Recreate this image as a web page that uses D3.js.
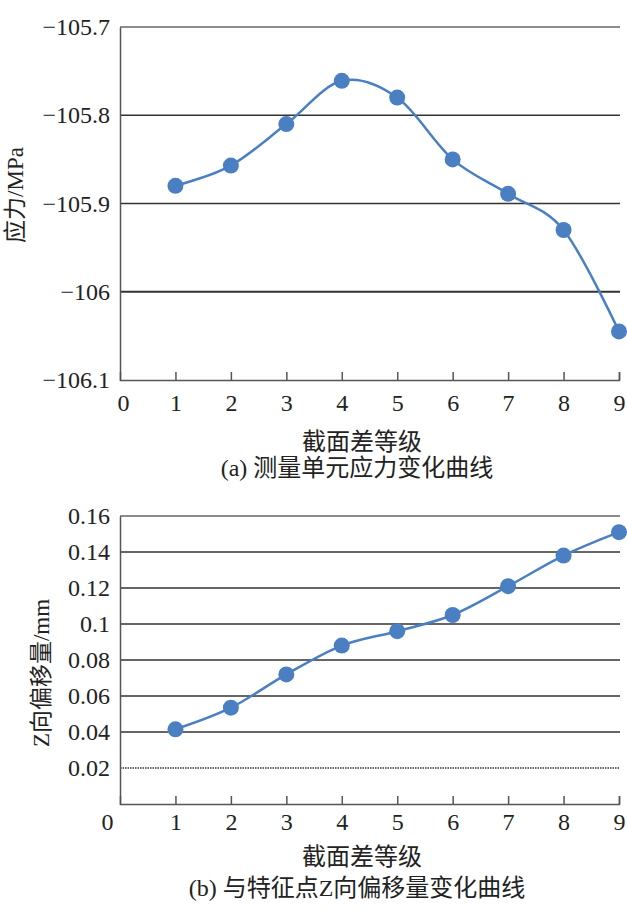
<!DOCTYPE html>
<html>
<head>
<meta charset="utf-8">
<script src="https://cdn.jsdelivr.net/npm/d3@7"></script>
<style>
  body { margin: 0; background: #fff; }
  text { font-family: "Liberation Serif", "Noto Sans CJK SC", serif; fill: #222; }
  .cjk { font-family: "Liberation Serif", "Noto Sans CJK SC", sans-serif; }
</style>
</head>
<body>
<svg id="chart"></svg>
<script>
// data
const levels = [1, 2, 3, 4, 5, 6, 7, 8, 9];
const stress = [-105.88, -105.857, -105.81, -105.761, -105.78, -105.85, -105.889, -105.93, -106.045];
const offsetZ = [0.0415, 0.0535, 0.072, 0.088, 0.096, 0.105, 0.121, 0.138, 0.151];

const xTicks = [0, 1, 2, 3, 4, 5, 6, 7, 8, 9];
const stressTicks = [-105.7, -105.8, -105.9, -106, -106.1];
const stressLabels = ['−105.7', '−105.8', '−105.9', '−106', '−106.1'];
const offsetTicks = [0.02, 0.04, 0.06, 0.08, 0.1, 0.12, 0.14, 0.16];
const offsetLabels = ['0.02', '0.04', '0.06', '0.08', '0.1', '0.12', '0.14', '0.16'];

const width = 627;
const height = 911;
const blue = '#4a7fc2';

const svg = d3.select('#chart').attr('width', width).attr('height', height);

const x = d3.scaleLinear().domain([0, 9]).range([120, 619]);

function drawPanel(cfg) {
  const y = d3.scaleLinear().domain(cfg.domain).range([cfg.bottom, cfg.top]);
  const g = svg.append('g');

  // gridlines
  g.selectAll('.grid')
    .data(cfg.ticks.filter(t => t !== cfg.domain[0]))
    .enter().append('line')
    .attr('x1', x(0)).attr('x2', 620)
    .attr('y1', d => y(d)).attr('y2', d => y(d))
    .attr('stroke', (d, i) => cfg.gridColor(d, i))
    .attr('stroke-width', (d, i) => cfg.gridWidth(d, i))
    .attr('stroke-dasharray', d => cfg.dashed && d === cfg.dashed ? '1.5,1' : null);

  // y axis
  const ya = g.append('g')
    .attr('transform', `translate(${x(0)},0)`)
    .call(d3.axisLeft(y).tickValues(cfg.ticks).tickSize(0).tickPadding(10)
      .tickFormat((d, i) => cfg.labels[i]));
  ya.select('.domain').attr('stroke', '#555').attr('stroke-width', 1.5);
  ya.selectAll('text').style('font-size', '24px').attr('fill', '#222');

  // x axis
  const xa = g.append('g')
    .attr('transform', `translate(0,${cfg.bottom})`)
    .call(d3.axisBottom(x).tickValues(xTicks).tickSize(-8).tickPadding(cfg.xPad)
      .tickFormat(d3.format('d')));
  xa.select('.domain').attr('stroke', '#555').attr('stroke-width', 1.5);
  xa.selectAll('line').attr('stroke', '#555').attr('stroke-width', 1.5);
  xa.selectAll('.tick').filter(d => d === 0).select('line').remove();
  xa.selectAll('text').style('font-size', '24px').attr('fill', '#222')
    .attr('dx', d => d === 0 ? cfg.zeroDx : 0);

  // smoothed line + markers
  const line = d3.line()
    .x((d, i) => x(levels[i]))
    .y(d => y(d))
    .curve(d3.curveCardinal.tension(0));
  g.append('path')
    .datum(cfg.values)
    .attr('fill', 'none')
    .attr('stroke', blue)
    .attr('stroke-width', 2.5)
    .attr('d', line);
  g.selectAll('.dot')
    .data(cfg.values)
    .enter().append('circle')
    .attr('cx', (d, i) => x(levels[i]))
    .attr('cy', d => y(d))
    .attr('r', 8)
    .attr('fill', blue);

  // titles
  g.append('text')
    .attr('class', 'cjk')
    .attr('transform', `translate(${cfg.yTitleX},${cfg.yTitleY}) rotate(-90)`)
    .attr('text-anchor', 'middle')
    .attr('dy', '0.35em')
    .style('font-size', '23px')
    .text(cfg.yTitle);
  g.append('text')
    .attr('class', 'cjk')
    .attr('x', 362).attr('y', cfg.xTitleY)
    .attr('text-anchor', 'middle').attr('dy', '0.35em')
    .style('font-size', '24px')
    .text('截面差等级');
  g.append('text')
    .attr('class', 'cjk')
    .attr('x', 357).attr('y', cfg.captionY)
    .attr('text-anchor', 'middle').attr('dy', '0.35em')
    .style('font-size', '24px')
    .text(cfg.caption);
}

drawPanel({
  domain: [-106.1, -105.7], top: 27, bottom: 380,
  ticks: stressTicks, labels: stressLabels, values: stress,
  gridColor: (d) => d === -105.7 ? '#666' : '#333',
  gridWidth: (d) => d === -106 ? 2 : 1.5,
  xPad: 14, zeroDx: 3,
  yTitle: '应力/MPa', yTitleX: 15, yTitleY: 195,
  xTitleY: 442, caption: '(a) 测量单元应力变化曲线', captionY: 468
});

drawPanel({
  domain: [0, 0.16], top: 516, bottom: 804,
  ticks: offsetTicks, labels: offsetLabels, values: offsetZ,
  gridColor: (d) => d === 0.16 ? '#666' : '#333',
  gridWidth: () => 1.5,
  dashed: 0.02,
  xPad: 9, zeroDx: -13,
  yTitle: 'Z向偏移量/mm', yTitleX: 41, yTitleY: 673,
  xTitleY: 857, caption: '(b) 与特征点Z向偏移量变化曲线', captionY: 888
});
</script>
</body>
</html>
